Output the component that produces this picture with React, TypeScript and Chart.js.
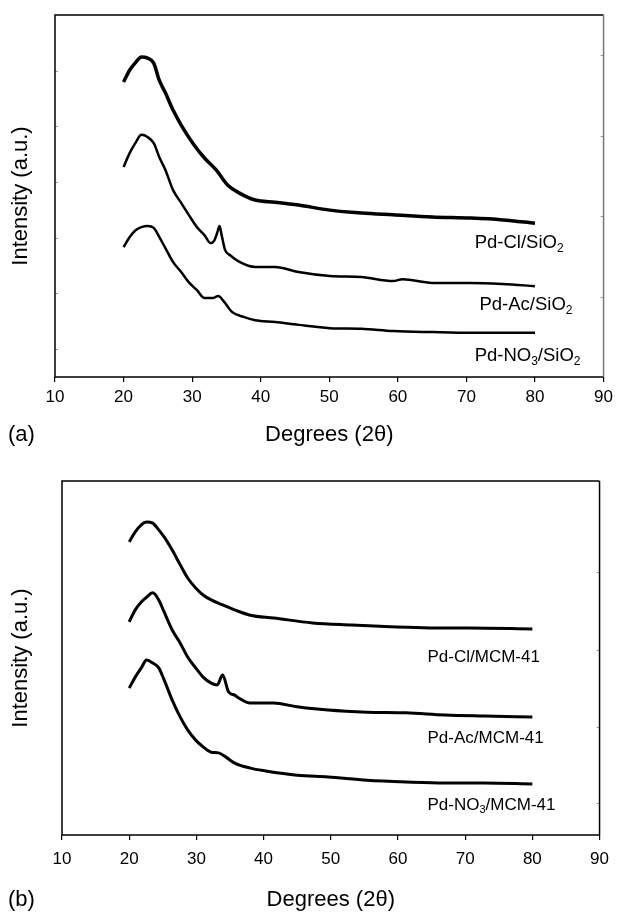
import React, { useEffect, useRef } from "react";
import { Chart, registerables } from "chart.js";

Chart.register(...registerables);

const FONT = '"Liberation Sans", Arial, Helvetica, sans-serif';

// x-axis tick labels (degrees 2θ)
const xTickValues = [10, 20, 30, 40, 50, 60, 70, 80, 90];

// ---------- Panel (a): SiO2 supports ----------
const clSiO2Deg = [20.0, 20.9, 21.8, 22.6, 23.5, 24.4, 25.2, 26.1, 27.2, 28.4, 30.1, 31.8, 33.5, 35.2, 36.9, 39.2, 42.1, 45.5, 50.1, 54.7, 59.3, 65.0, 70.7, 75.3, 80.0];
const clSiO2Int = [81.5, 84.8, 87.0, 88.4, 88.1, 86.7, 82.0, 78.5, 73.8, 69.6, 64.6, 60.5, 57.2, 53.0, 50.8, 48.9, 48.3, 47.5, 46.1, 45.3, 44.8, 44.2, 43.9, 43.4, 42.5];

const acSiO2Deg = [20.0, 20.9, 21.8, 22.6, 23.5, 24.4, 25.2, 26.1, 27.2, 28.4, 29.5, 30.7, 31.8, 32.7, 33.2, 33.7, 34.0, 34.3, 34.8, 35.5, 36.9, 39.2, 42.1, 45.5, 50.1, 54.7, 59.3, 60.7, 65.0, 70.7, 75.3, 80.0];
const acSiO2Int = [58.0, 61.9, 64.9, 66.9, 66.3, 64.6, 60.8, 57.2, 51.7, 48.1, 44.8, 41.4, 39.2, 37.0, 37.6, 40.1, 41.7, 39.2, 35.1, 33.7, 31.8, 30.4, 30.4, 29.0, 27.9, 27.6, 26.5, 27.0, 26.0, 26.0, 25.7, 25.1];

const no3SiO2Deg = [20.0, 20.9, 21.8, 22.6, 23.5, 24.4, 25.2, 26.1, 27.2, 28.4, 29.5, 30.7, 31.8, 33.0, 33.8, 34.7, 35.8, 37.5, 39.2, 42.1, 45.5, 50.1, 54.7, 59.3, 65.0, 70.7, 80.0];
const no3SiO2Int = [35.9, 38.7, 40.6, 41.4, 41.7, 41.2, 38.7, 35.6, 31.8, 29.0, 26.2, 24.0, 21.8, 21.8, 22.4, 20.7, 18.0, 16.6, 15.7, 15.2, 14.4, 13.5, 13.3, 12.7, 12.4, 12.2, 12.2];

// ---------- Panel (b): MCM-41 supports ----------
const clMCMDeg = [20.0, 20.9, 21.8, 22.6, 23.5, 24.4, 25.2, 26.4, 27.6, 28.7, 29.9, 31.0, 32.2, 33.9, 35.7, 38.0, 41.5, 47.3, 53.1, 58.9, 64.7, 70.5, 80.0];
const clMCMInt = [82.8, 85.6, 87.6, 88.4, 88.1, 86.2, 84.2, 80.5, 76.3, 72.6, 69.8, 67.8, 66.4, 65.0, 63.6, 62.1, 61.3, 59.9, 59.3, 58.8, 58.5, 58.5, 58.2];

const acMCMDeg = [20.0, 20.9, 21.8, 22.6, 23.5, 24.4, 25.2, 26.4, 27.6, 28.7, 29.9, 31.0, 32.2, 33.1, 33.9, 34.8, 35.7, 36.3, 38.0, 41.5, 45.0, 49.6, 55.4, 61.2, 67.0, 72.8, 80.0];
const acMCMInt = [60.2, 63.6, 65.8, 67.2, 68.4, 66.4, 63.0, 57.9, 54.2, 50.3, 47.2, 44.6, 42.9, 42.4, 45.2, 40.4, 39.5, 38.7, 37.3, 37.3, 36.2, 35.3, 34.7, 34.5, 33.9, 33.6, 33.3];

const no3MCMDeg = [20.0, 20.9, 21.8, 22.6, 23.5, 24.4, 25.2, 26.4, 27.6, 28.7, 29.9, 31.0, 32.2, 33.3, 34.4, 35.7, 38.0, 40.3, 45.0, 49.6, 55.4, 61.2, 67.0, 72.8, 80.0];
const no3MCMInt = [41.5, 44.6, 47.2, 49.4, 48.6, 47.2, 43.8, 38.1, 33.3, 29.7, 26.8, 24.9, 23.4, 23.2, 22.0, 20.3, 18.9, 18.1, 16.9, 16.4, 15.5, 15.0, 14.7, 14.7, 14.4];

// minor inside tick values on the frame
const leftTicksA = [7.7, 23.1, 38.5, 53.8, 69.2, 84.6];
const rightTicksA = [22.2, 44.4, 66.7, 88.9];
const leftTicksB: number[] = [];
const rightTicksB = [9.0, 30.5, 52.3, 74.3];

type Part = [string, boolean];
type Label = { parts: Part[]; x: number; y: number };
type Series = { deg: number[]; val: number[]; width: number };

const labelsA: Label[] = [
  { parts: [["Pd-Cl/SiO", false], ["2", true]], x: 71.2, y: 37.0 },
  { parts: [["Pd-Ac/SiO", false], ["2", true]], x: 71.9, y: 19.9 },
  { parts: [["Pd-NO", false], ["3", true], ["/SiO", false], ["2", true]], x: 71.2, y: 5.8 },
];
const labelsB: Label[] = [
  { parts: [["Pd-Cl/MCM-41", false]], x: 64.4, y: 50.3 },
  { parts: [["Pd-Ac/MCM-41", false]], x: 64.4, y: 27.4 },
  { parts: [["Pd-NO", false], ["3", true], ["/MCM-41", false]], x: 64.4, y: 8.5 },
];

interface PanelCfg {
  top: number;
  height: number;
  padTop: number;
  padRight: number;
  yAxisWidth: number;
  xAxisHeight: number;
  tickPad: number;
  titlePadBottom: number;
  series: Series[];
  labels: Label[];
  labelSize: number;
  leftTicks: number[];
  rightTicks: number[];
  rightColor: string;
  tag: string;
}

const TITLE_SIZE = 22;

const framePlugin = {
  id: "frame",
  afterDraw(chart: any, _args: any, opts: any) {
    const { ctx, chartArea: a, scales } = chart;
    const xs = scales.x;
    const ys = scales.y;
    ctx.save();
    // inside minor ticks
    ctx.strokeStyle = "#999";
    ctx.lineWidth = 1;
    for (const v of opts.leftTicks) {
      const py = Math.round(ys.getPixelForValue(v)) + 0.5;
      ctx.beginPath();
      ctx.moveTo(a.left, py);
      ctx.lineTo(a.left + 3, py);
      ctx.stroke();
    }
    for (const v of opts.rightTicks) {
      const py = Math.round(ys.getPixelForValue(v)) + 0.5;
      ctx.beginPath();
      ctx.moveTo(a.right - 3, py);
      ctx.lineTo(a.right, py);
      ctx.stroke();
    }
    // frame
    ctx.lineWidth = 1.5;
    ctx.strokeStyle = "#000";
    ctx.beginPath();
    ctx.moveTo(a.right, a.top);
    ctx.lineTo(a.left, a.top);
    ctx.lineTo(a.left, a.bottom);
    ctx.lineTo(a.right, a.bottom);
    ctx.stroke();
    ctx.strokeStyle = opts.rightColor;
    ctx.beginPath();
    ctx.moveTo(a.right, a.top);
    ctx.lineTo(a.right, a.bottom);
    ctx.stroke();
    // curve labels
    ctx.fillStyle = "#000";
    ctx.textAlign = "left";
    ctx.textBaseline = "middle";
    const size = opts.labelSize;
    for (const lab of opts.labels as Label[]) {
      let px = xs.getPixelForValue(lab.x);
      const py = ys.getPixelForValue(lab.y);
      for (const [t, sub] of lab.parts) {
        ctx.font = sub ? `${Math.round(size * 0.65)}px ${FONT}` : `${size}px ${FONT}`;
        ctx.fillText(t, px, sub ? py + size * 0.32 : py);
        px += ctx.measureText(t).width;
      }
    }
    // panel tag
    ctx.font = `${TITLE_SIZE}px ${FONT}`;
    ctx.fillText(opts.tag, 8, xs.bottom - (TITLE_SIZE / 2 + opts.titlePadBottom));
    ctx.restore();
  },
};

function Panel({ cfg }: { cfg: PanelCfg }) {
  const ref = useRef<HTMLCanvasElement | null>(null);
  useEffect(() => {
    if (!ref.current) return;
    const chart = new Chart(ref.current, {
      type: "line",
      data: {
        datasets: cfg.series.map((s) => ({
          data: s.deg.map((d, i) => ({ x: d, y: s.val[i] })),
          borderColor: "#000",
          borderWidth: s.width,
          pointRadius: 0,
          fill: false,
          cubicInterpolationMode: "monotone" as const,
          borderJoinStyle: "round" as const,
        })),
      },
      options: {
        responsive: false,
        animation: false,
        layout: { padding: { top: cfg.padTop, right: cfg.padRight, left: 0, bottom: 0 } },
        plugins: {
          legend: { display: false },
          tooltip: { enabled: false },
          frame: {
            leftTicks: cfg.leftTicks,
            rightTicks: cfg.rightTicks,
            rightColor: cfg.rightColor,
            labels: cfg.labels,
            labelSize: cfg.labelSize,
            tag: cfg.tag,
            titlePadBottom: cfg.titlePadBottom,
          },
        } as any,
        scales: {
          x: {
            type: "linear",
            min: 10,
            max: 90,
            afterBuildTicks: (s: any) => {
              s.ticks = xTickValues.map((v) => ({ value: v }));
            },
            ticks: {
              font: { size: 17, family: FONT },
              color: "#000",
              padding: cfg.tickPad,
              maxRotation: 0,
              autoSkip: false,
            },
            grid: {
              display: true,
              drawOnChartArea: false,
              drawTicks: true,
              tickLength: 5,
              color: "#000",
              lineWidth: 1.2,
            },
            border: { display: false },
            title: {
              display: true,
              text: "Degrees (2θ)",
              color: "#000",
              font: { size: TITLE_SIZE, family: FONT, lineHeight: 1 },
              padding: { top: 0, bottom: cfg.titlePadBottom },
            },
            afterFit: (s: any) => {
              s.height = cfg.xAxisHeight;
            },
          },
          y: {
            type: "linear",
            min: 0,
            max: 100,
            ticks: { display: false },
            grid: { display: false },
            border: { display: false },
            title: {
              display: true,
              text: "Intensity (a.u.)",
              color: "#000",
              font: { size: TITLE_SIZE, family: FONT, lineHeight: 1 },
              padding: { top: 10, bottom: 0 },
            },
            afterFit: (s: any) => {
              s.width = cfg.yAxisWidth;
            },
          },
        },
      } as any,
      plugins: [framePlugin as any],
    });
    return () => chart.destroy();
  }, [cfg]);
  return (
    <div style={{ position: "fixed", left: 0, top: cfg.top, width: 618, height: cfg.height }}>
      <canvas ref={ref} width={618} height={cfg.height} style={{ width: 618, height: cfg.height, display: "block" }} />
    </div>
  );
}

const panelA: PanelCfg = {
  top: 0,
  height: 460,
  padTop: 15,
  padRight: 11,
  yAxisWidth: 55,
  xAxisHeight: 83,
  tickPad: 5,
  titlePadBottom: 14,
  series: [
    { deg: clSiO2Deg, val: clSiO2Int, width: 3.5 },
    { deg: acSiO2Deg, val: acSiO2Int, width: 2.5 },
    { deg: no3SiO2Deg, val: no3SiO2Int, width: 2.5 },
  ],
  labels: labelsA,
  labelSize: 18.5,
  leftTicks: leftTicksA,
  rightTicks: rightTicksA,
  rightColor: "#777",
  tag: "(a)",
};

const panelB: PanelCfg = {
  top: 460,
  height: 452,
  padTop: 21,
  padRight: 12,
  yAxisWidth: 62,
  xAxisHeight: 77,
  tickPad: 9,
  titlePadBottom: 1,
  series: [
    { deg: clMCMDeg, val: clMCMInt, width: 3 },
    { deg: acMCMDeg, val: acMCMInt, width: 3 },
    { deg: no3MCMDeg, val: no3MCMInt, width: 3 },
  ],
  labels: labelsB,
  labelSize: 17,
  leftTicks: leftTicksB,
  rightTicks: rightTicksB,
  rightColor: "#000",
  tag: "(b)",
};

export default function App() {
  return (
    <div style={{ width: 618, height: 912, background: "#fff" }}>
      <Panel cfg={panelA} />
      <Panel cfg={panelB} />
    </div>
  );
}
